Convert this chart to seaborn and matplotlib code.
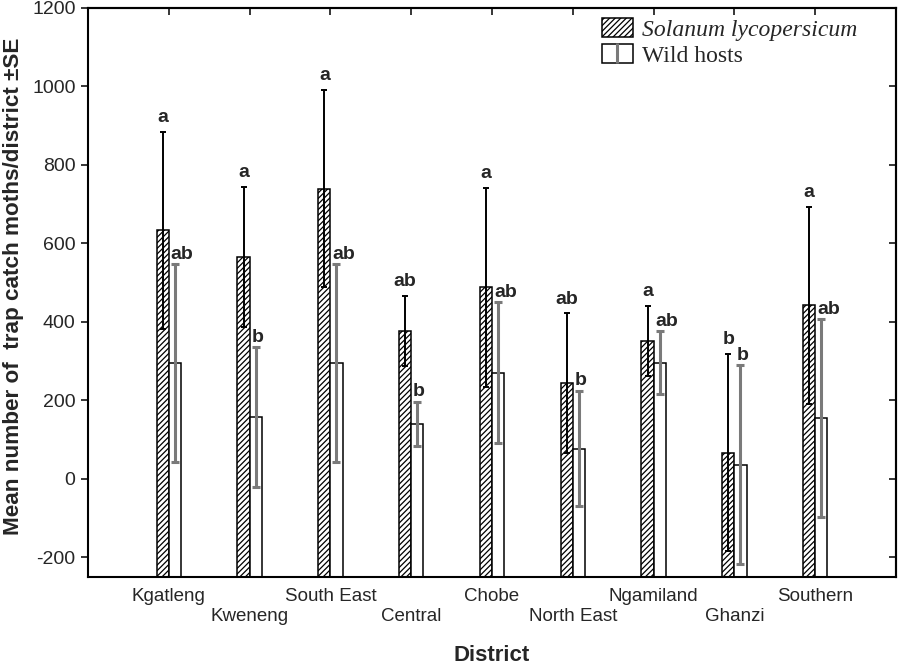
import matplotlib
matplotlib.use("Agg")
import matplotlib.pyplot as plt
import numpy as np
import pandas as pd
import seaborn as sns
from matplotlib.patches import Patch
from matplotlib.lines import Line2D
from matplotlib.legend_handler import HandlerTuple

districts = ["Kgatleng", "Kweneng", "South East", "Central", "Chobe",
             "North East", "Ngamiland", "Ghanzi", "Southern"]
hosts = ["Solanum lycopersicum", "Wild hosts"]
solanum_mean = [634, 566, 740, 377, 488, 244, 351, 67, 442]
solanum_se = [251, 179, 252, 89, 253, 178, 90, 252, 251]
wild_mean = [295, 157, 295, 140, 271, 77, 296, 36, 155]
wild_se = [252, 178, 252, 57, 179, 147, 80, 253, 252]
solanum_letters = ["a", "a", "a", "ab", "a", "ab", "a", "b", "a"]
wild_letters = ["ab", "b", "ab", "b", "ab", "b", "ab", "b", "ab"]
yticks = [-200, 0, 200, 400, 600, 800, 1000, 1200]
YMIN, YMAX = -250, 1200

sns.set_style("ticks")
plt.rcParams["font.family"] = ["Liberation Sans", "DejaVu Sans"]
plt.rcParams["hatch.linewidth"] = 0.9

df = pd.DataFrame({
    "district": districts * 2,
    "host": [hosts[0]] * len(districts) + [hosts[1]] * len(districts),
    "mean": solanum_mean + wild_mean,
})

fig = plt.figure(figsize=(8.98, 6.66), dpi=100)
ax = fig.add_axes([88 / 898, 1 - 577 / 666, 808 / 898, 569 / 666])

sns.barplot(data=df, x="district", y="mean", hue="host", order=districts,
            hue_order=hosts, width=0.3, dodge=True, errorbar=None,
            palette=["white", "white"], saturation=1, edgecolor="black",
            linewidth=1.1, legend=False, ax=ax)

sol_bars, wild_bars = ax.containers[0], ax.containers[1]
for p in list(sol_bars) + list(wild_bars):
    top = p.get_y() + p.get_height()
    p.set_y(YMIN)
    p.set_height(top - YMIN)
for p in sol_bars:
    p.set_hatch("//////")

xs_sol = [p.get_x() + p.get_width() / 2 for p in sol_bars]
xs_wild = [p.get_x() + p.get_width() / 2 for p in wild_bars]

ax.errorbar(xs_sol, solanum_mean, yerr=solanum_se, fmt="none", ecolor="black",
            elinewidth=1.4, capsize=2.3, capthick=1.4, zorder=4)
ax.errorbar(xs_wild, wild_mean, yerr=wild_se, fmt="none", ecolor="#7a7a7a",
            elinewidth=2.2, capsize=3.2, capthick=2.2, zorder=4)

for x, m, s, lab in zip(xs_sol, solanum_mean, solanum_se, solanum_letters):
    ax.annotate(lab, (x, m + s), xytext=(0, 7), textcoords="offset points",
                ha="center", va="baseline", fontsize=14, fontweight="bold")
for x, m, s, lab in zip(xs_wild, wild_mean, wild_se, wild_letters):
    ax.annotate(lab, (x, m + s), xytext=(-3, 4), textcoords="offset points",
                ha="left", va="baseline", fontsize=14, fontweight="bold")

ax.set_xlim(-1, len(districts))
ax.set_ylim(YMIN, YMAX)
ax.set_yticks(yticks)
ax.set_yticklabels([str(t) for t in yticks], fontsize=14)
ax.set_xticks(range(len(districts)))
ax.set_xticklabels([d if i % 2 == 0 else "\n" + d for i, d in enumerate(districts)],
                   fontsize=13.5)
ax.tick_params(axis="x", length=0, pad=8)
ax.tick_params(axis="y", direction="out", length=5, width=1.3, pad=4)

for sp in ax.spines.values():
    sp.set_visible(True)
    sp.set_linewidth(1.5)
    sp.set_color("black")

sec_y = ax.secondary_yaxis("right")
sec_y.set_yticks(yticks)
sec_y.tick_params(direction="in", length=5, width=1.3, labelright=False)
sec_y.spines["right"].set_linewidth(1.5)
sec_x = ax.secondary_xaxis("top")
sec_x.set_xticks(range(len(districts)))
sec_x.tick_params(direction="in", length=5, width=1.3, labeltop=False)
sec_x.spines["top"].set_linewidth(1.5)

ax.set_xlabel("District", fontsize=16, fontweight="bold")
ax.set_ylabel("Mean number of  trap catch moths/district \u00b1SE", fontsize=16.2,
              fontweight="bold")
ax.xaxis.set_label_coords(0.5, -0.12)
ax.yaxis.set_label_coords(-0.079, 0.51)
ax.xaxis.label.set_va("top")

h1 = Patch(facecolor="white", edgecolor="black", hatch="//////", linewidth=1.1)
h2 = (Patch(facecolor="white", edgecolor="black", linewidth=1.1),
      Line2D([], [], color="#7a7a7a", marker="|", linestyle="none",
             markersize=14, markeredgewidth=2.2))
leg = ax.legend([h1, h2], hosts, handler_map={tuple: HandlerTuple(ndivide=1)},
                loc="upper left", bbox_to_anchor=(0.636, 0.982), frameon=False,
                borderpad=0, borderaxespad=0, handlelength=1.3, handleheight=0.85,
                handletextpad=0.42, labelspacing=0.15,
                prop={"family": "Liberation Serif", "size": 17})
leg.get_texts()[0].set_style("italic")

fig.savefig("out.png", dpi=100)
